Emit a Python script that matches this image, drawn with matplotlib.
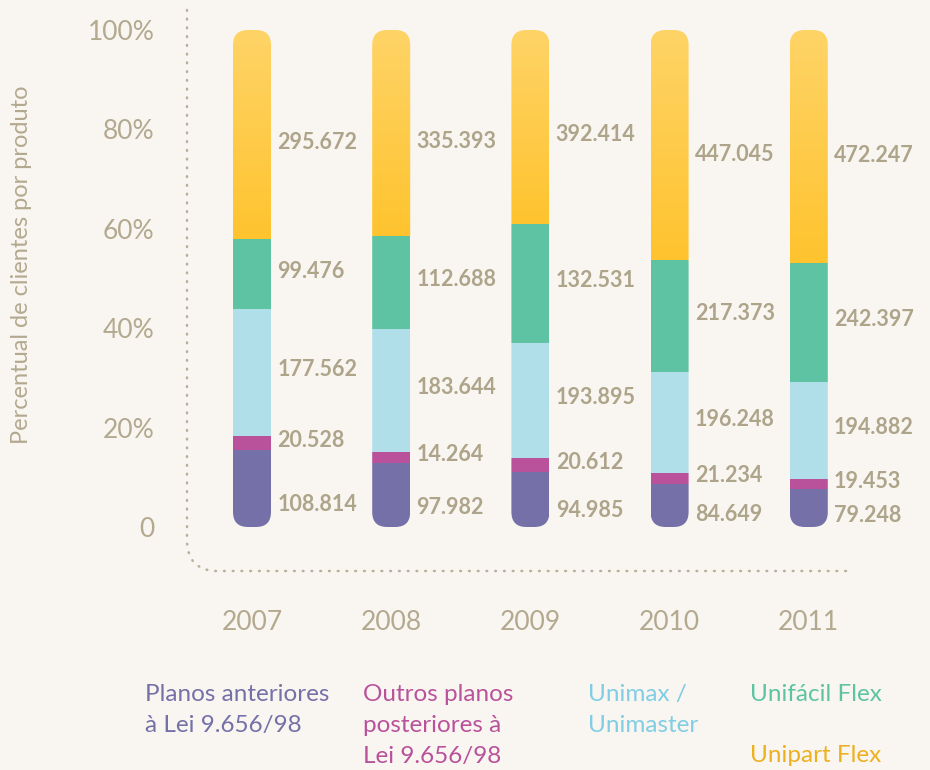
import matplotlib.pyplot as plt
import numpy as np
from matplotlib.colors import LinearSegmentedColormap
from matplotlib.patches import FancyBboxPatch, PathPatch
from matplotlib.path import Path

years = ["2007", "2008", "2009", "2010", "2011"]

# number of clients (printed next to each segment)
planos_anteriores = [108814, 97982, 94985, 84649, 79248]
outros_planos = [20528, 14264, 20612, 21234, 19453]
unimax = [177562, 183644, 193895, 196248, 194882]
unifacil = [99476, 112688, 132531, 217373, 242397]
unipart = [295672, 335393, 392414, 447045, 472247]

# segment heights (%) as drawn in the original chart
pct_planos_anteriores = [15.4, 12.9, 11.1, 8.6, 7.6]
pct_outros_planos = [2.9, 2.1, 2.7, 2.2, 2.0]
pct_unimax = [25.5, 24.9, 23.2, 20.4, 19.5]
pct_unifacil = [14.1, 18.6, 24.0, 22.5, 24.1]
pct_unipart = [42.1, 41.5, 39.0, 46.3, 46.8]

values = [planos_anteriores, outros_planos, unimax, unifacil, unipart]
shares = [pct_planos_anteriores, pct_outros_planos, pct_unimax,
          pct_unifacil, pct_unipart]
bar_colors = ["#7571a8", "#b9529b", "#b0dfea", "#5ec3a3", "#fec83c"]

legend_texts = [
    "Planos anteriores\nà Lei 9.656/98",
    "Outros planos\nposteriores à\nLei 9.656/98",
    "Unimax /\nUnimaster",
    "Unifácil Flex",
    "Unipart Flex",
]
legend_colors = ["#7571a8", "#b9529b", "#80cde4", "#5ec3a3", "#edb021"]

BG = "#f9f6f1"
GREY = "#ada48a"
W, H = 930, 770


def fmt(v):
    return f"{v:,}".replace(",", ".")


fig = plt.figure(figsize=(W / 100, H / 100), dpi=100, facecolor=BG)
ax_l, ax_b, ax_w, ax_h = 182.4, 243, 696, 497
ax = fig.add_axes([ax_l / W, ax_b / H, ax_w / W, ax_h / H])
ax.set_facecolor("none")
for s in ax.spines.values():
    s.set_visible(False)

n = len(years)
bar_w = 38 / (ax_w / n)
radius = 15 / (ax_w / n)
aspect = (ax_w / n) / (ax_h / 100)
yellow = LinearSegmentedColormap.from_list("yel", ["#ffc32e", "#fed467"])

for i in range(n):
    total = sum(sh[i] for sh in shares)
    clip = FancyBboxPatch(
        (i - bar_w / 2, 0), bar_w, 100,
        boxstyle=f"round,pad=0,rounding_size={radius}",
        mutation_aspect=aspect, fc="none", ec="none",
        transform=ax.transData,
    )
    ax.add_patch(clip)
    bottom = 0
    for k, sh in enumerate(shares):
        pct = sh[i] / total * 100
        if k == len(shares) - 1:
            im = ax.imshow(
                np.linspace(0, 1, 100).reshape(-1, 1)[::-1],
                extent=(i - bar_w / 2, i + bar_w / 2, bottom, 100),
                cmap=yellow, aspect="auto", zorder=2,
            )
            im.set_clip_path(clip)
        else:
            b = ax.bar(i, pct, bar_w, bottom=bottom, color=bar_colors[k],
                       linewidth=0, zorder=2)
            b[0].set_clip_path(clip)
        if k == 0:
            ly = pct * 0.3
        elif k == len(shares) - 1:
            ly = bottom + pct * 0.46
        else:
            ly = bottom + pct / 2 + 0.6
        ax.text(i + bar_w / 2 + 0.045, ly, fmt(values[k][i]), ha="left",
                va="center", fontsize=15.5, fontweight="bold", color=GREY,
                family="Lato")
        bottom += pct

ax.set_xlim(-0.5, n - 0.5)
ax.set_ylim(0, 100)
ax.set_yticks([0, 20, 40, 60, 80, 100], ["0", "20%", "40%", "60%", "80%", "100%"])
ax.set_xticks(range(n), years)
ax.tick_params(axis="y", length=0, pad=20, labelsize=19, labelcolor="#b3a98f")
ax.tick_params(axis="x", length=0, pad=60, labelsize=19, labelcolor="#b3a98f")
for t in ax.get_xticklabels() + ax.get_yticklabels():
    t.set_family("Lato")

fig.text(22 / W, 1 - 265 / H, "Percentual de clientes por produto",
         rotation=90, ha="center", va="center", fontsize=17, color="#b3a98f",
         family="Lato")

# dotted axis line with rounded corner
pts = [(187, 10), (187, 540), (187, 571), (218, 571), (850, 571)]
codes = [Path.MOVETO, Path.LINETO, Path.CURVE3, Path.CURVE3, Path.LINETO]
verts = [(x / W, 1 - y / H) for x, y in pts]
fig.add_artist(PathPatch(Path(verts, codes), fill=False, ec="#b9b09a",
                         lw=1.8, linestyle=(0, (0.3, 3.2)), capstyle="round",
                         transform=fig.transFigure))

# legend texts
leg_pos = [(145, 684), (363, 684), (588, 684), (750, 684), (750, 745)]
for txt, c, (x, y) in zip(legend_texts, legend_colors, leg_pos):
    fig.text(x / W, 1 - y / H, txt, ha="left", va="top", fontsize=17.5,
             color=c, linespacing=1.6, family="Lato")

fig.savefig("out.png", dpi=100, facecolor=BG)
